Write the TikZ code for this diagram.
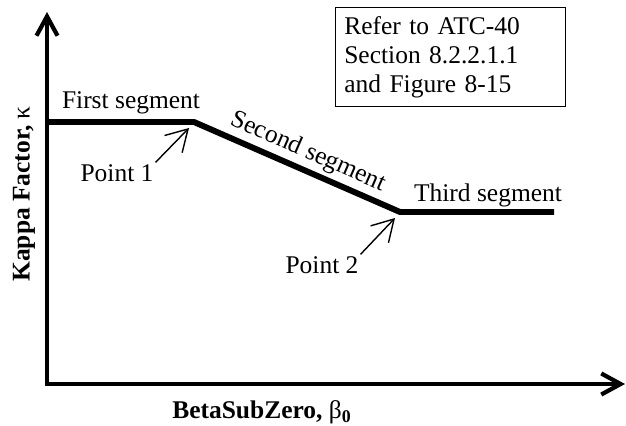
\documentclass[tikz,border=0pt]{standalone}
\usepackage{fontspec}
\setmainfont{Liberation Serif}
\usetikzlibrary{arrows.meta}

\begin{document}
\begin{tikzpicture}[
    x=0.02cm, y=-0.02cm,
    every node/.style={font=\fontsize{14.5}{16.5}\selectfont},
    axis/.style={line width=2.4pt, {Straight Barb[length=11pt, width=12pt]}-{Straight Barb[length=11pt, width=12pt]}},
    curve/.style={line width=3.4pt},
    pointer/.style={line width=0.8pt, -{Straight Barb[length=12pt, width=14pt]}},
    axislabel/.style={font=\fontsize{14.5}{16.5}\selectfont\bfseries},
  ]
  \useasboundingbox (0,0) rectangle (626,426);

  % Axes
  \coordinate (O) at (47,384);
  \coordinate (ytip) at (47,12);
  \coordinate (xtip) at (625,384);
  \draw[axis] (ytip) -- (O) -- (xtip);

  % Kappa curve
  \coordinate (s0) at (47,122);
  \coordinate (s1) at (194,122);
  \coordinate (s2) at (400,212);
  \coordinate (s3) at (554,212);
  \draw[curve] (s0) -- (s1) -- (s2) -- (s3);

  % Segment labels
  \node (first) at (131,103) {First segment};
  \path (s1) -- node[sloped, above, pos=0.52] (second) {Second segment} (s2);
  \node (third) at (488,195) {Third segment};

  % Points
  \node[inner sep=1pt] (pt1) at (117,173) {Point 1};
  \coordinate (t1) at (189,128);
  \draw[pointer] (pt1.north east) -- (t1);
  \node[inner sep=1pt] (pt2) at (322,265) {Point 2};
  \coordinate (t2) at (395,218);
  \draw[pointer] (pt2.north east) -- (t2);

  % Reference box
  \node[draw, line width=0.6pt, anchor=north west, align=left, text width=121pt,
        inner xsep=5pt, inner ysep=5pt] (note) at (335,7)
    {Refer to ATC-40\\Section 8.2.2.1.1\\and Figure 8-15};

  % Axis labels
  \node[axislabel, rotate=90] (ylab) at (24,194) {Kappa Factor, {\mdseries κ}};
  \node[axislabel] (xlab) at (262,412) {BetaSubZero, {\mdseries β}\textsubscript{0}};
\end{tikzpicture}
\end{document}
